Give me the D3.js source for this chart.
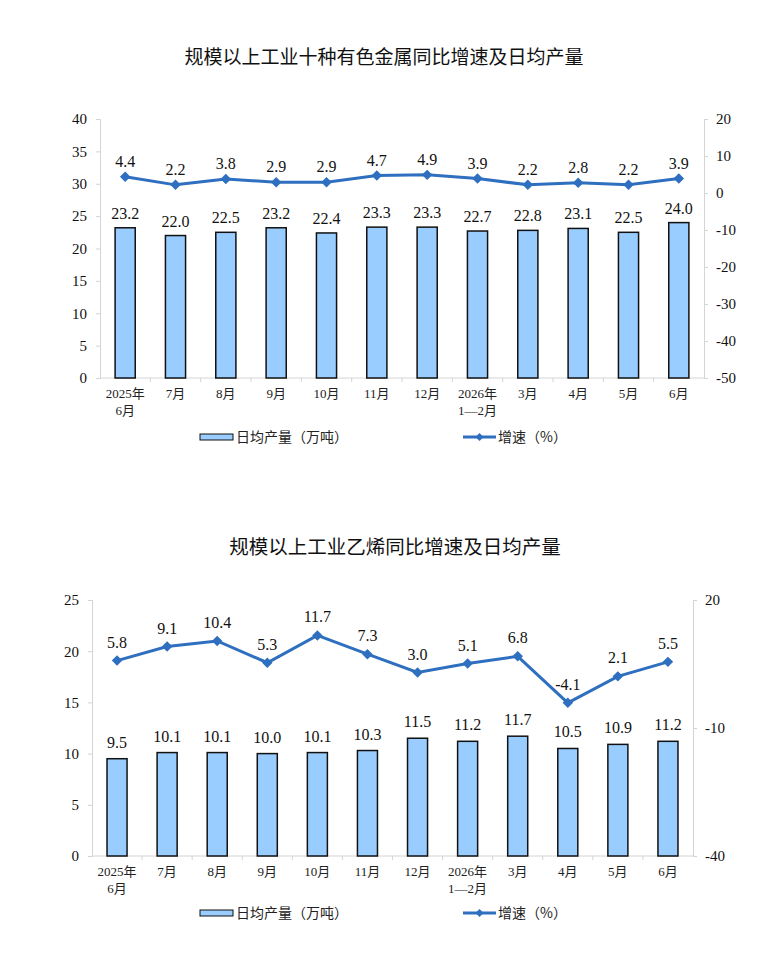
<!DOCTYPE html>
<html>
<head>
<meta charset="utf-8">
<script src="https://cdn.jsdelivr.net/npm/d3@7/dist/d3.min.js"></script>
<style>
  body { margin: 0; background: #fff; }
  svg { display: block; }
</style>
</head>
<body>
<svg id="chart" width="768" height="955"></svg>
<script>
// month labels (shared by both panels)
const months = ['2025年|6月', '7月', '8月', '9月', '10月', '11月', '12月', '2026年|1—2月', '3月', '4月', '5月', '6月'];

// panel 1: ten non-ferrous metals
const metalOutput = [23.2, 22.0, 22.5, 23.2, 22.4, 23.3, 23.3, 22.7, 22.8, 23.1, 22.5, 24.0];
const metalGrowth = [4.4, 2.2, 3.8, 2.9, 2.9, 4.7, 4.9, 3.9, 2.2, 2.8, 2.2, 3.9];
const metalLeftTicks = [0, 5, 10, 15, 20, 25, 30, 35, 40];
const metalRightTicks = [-50, -40, -30, -20, -10, 0, 10, 20];

// panel 2: ethylene
const ethOutput = [9.5, 10.1, 10.1, 10.0, 10.1, 10.3, 11.5, 11.2, 11.7, 10.5, 10.9, 11.2];
const ethGrowth = [5.8, 9.1, 10.4, 5.3, 11.7, 7.3, 3.0, 5.1, 6.8, -4.1, 2.1, 5.5];
const ethLeftTicks = [0, 5, 10, 15, 20, 25];
const ethRightTicks = [-40, -10, 20];

const legendBar = '日均产量（万吨）';
const legendLine = '增速（%）';

const BAR_FILL = '#99ccff';
const LINE_COL = '#2e6fbf';
const AXIS_COL = '#d4d4d4';
const SERIF = '"Liberation Serif", "Times New Roman", "Noto Sans CJK SC", serif';
const CJK = '"Noto Sans CJK SC", sans-serif';

const svg = d3.select('#chart');

function drawPanel(cfg) {
  const g = svg.append('g');

  // title
  g.append('text')
    .attr('x', cfg.titleX).attr('y', cfg.titleY)
    .attr('text-anchor', 'middle')
    .style('font-family', CJK)
    .style('font-size', cfg.titleSize + 'px')
    .style('font-weight', '400')
    .attr('fill', '#111')
    .text(cfg.title);

  const x = d3.scaleBand().domain(months).range([cfg.left, cfg.right]);
  const yL = d3.scaleLinear().domain(cfg.leftDomain).range([cfg.bottom, cfg.top]);
  const yR = d3.scaleLinear().domain(cfg.rightDomain).range([cfg.bottom, cfg.top]);

  // left axis
  const axL = g.append('g')
    .attr('transform', 'translate(' + cfg.left + ',0)')
    .call(d3.axisLeft(yL).tickValues(cfg.leftTicks).tickSize(4).tickPadding(9).tickFormat(d => String(d)));
  // right axis
  const axR = g.append('g')
    .attr('transform', 'translate(' + cfg.right + ',0)')
    .call(d3.axisRight(yR).tickValues(cfg.rightTicks).tickSize(4).tickPadding(cfg.rightPad).tickFormat(d => String(d)));
  // bottom axis (ticks on band boundaries)
  const axB = g.append('g')
    .attr('transform', 'translate(0,' + cfg.bottom + ')');
  axB.append('line')
    .attr('x1', cfg.left).attr('x2', cfg.right)
    .attr('stroke', AXIS_COL);
  axB.selectAll('line.tk')
    .data(months.slice(1))
    .enter().append('line')
    .attr('class', 'tk')
    .attr('x1', d => x(d)).attr('x2', d => x(d))
    .attr('y1', 0).attr('y2', 4)
    .attr('stroke', AXIS_COL);

  [axL, axR].forEach(ax => {
    ax.select('.domain').attr('stroke', AXIS_COL);
    ax.selectAll('.tick line').attr('stroke', AXIS_COL);
    ax.selectAll('.tick text')
      .style('font-family', SERIF)
      .style('font-size', '15px')
      .attr('fill', '#111');
  });

  // month labels
  const lbl = axB.selectAll('text.mon')
    .data(months)
    .enter().append('text')
    .attr('class', 'mon')
    .attr('text-anchor', 'middle')
    .attr('x', d => x(d) + x.bandwidth() / 2)
    .attr('y', 20)
    .style('font-family', SERIF)
    .style('font-size', '13px')
    .attr('fill', '#222');
  lbl.each(function (d) {
    const parts = d.split('|');
    const t = d3.select(this);
    parts.forEach((p, i) => {
      t.append('tspan')
        .attr('x', x(d) + x.bandwidth() / 2)
        .attr('dy', i === 0 ? 0 : 17)
        .text(p);
    });
  });

  // bars
  const bw = x.bandwidth() * 0.4;
  g.selectAll('rect.bar')
    .data(cfg.output)
    .enter().append('rect')
    .attr('class', 'bar')
    .attr('x', (d, i) => x(months[i]) + (x.bandwidth() - bw) / 2)
    .attr('y', d => yL(d))
    .attr('width', bw)
    .attr('height', d => cfg.bottom - yL(d))
    .attr('fill', BAR_FILL)
    .attr('stroke', '#111')
    .attr('stroke-width', 1.5);

  g.selectAll('text.barlbl')
    .data(cfg.output)
    .enter().append('text')
    .attr('class', 'barlbl')
    .attr('text-anchor', 'middle')
    .attr('x', (d, i) => x(months[i]) + x.bandwidth() / 2)
    .attr('y', d => yL(d) - cfg.barLblOff)
    .style('font-family', SERIF)
    .style('font-size', '16px')
    .attr('fill', '#111')
    .text(d => d.toFixed(1));

  // growth line
  const line = d3.line()
    .x((d, i) => x(months[i]) + x.bandwidth() / 2)
    .y(d => yR(d));
  g.append('path')
    .datum(cfg.growth)
    .attr('fill', 'none')
    .attr('stroke', LINE_COL)
    .attr('stroke-width', 3)
    .attr('d', line);

  g.selectAll('path.mk')
    .data(cfg.growth)
    .enter().append('path')
    .attr('class', 'mk')
    .attr('d', d3.symbol(d3.symbolDiamond2, 70))
    .attr('transform', (d, i) => 'translate(' + (x(months[i]) + x.bandwidth() / 2) + ',' + yR(d) + ')')
    .attr('fill', LINE_COL);

  g.selectAll('text.linelbl')
    .data(cfg.growth)
    .enter().append('text')
    .attr('class', 'linelbl')
    .attr('text-anchor', 'middle')
    .attr('x', (d, i) => x(months[i]) + x.bandwidth() / 2)
    .attr('y', d => yR(d) - cfg.lineLblOff)
    .style('font-family', SERIF)
    .style('font-size', '16px')
    .attr('fill', '#111')
    .text(d => d.toFixed(1));

  // legend
  const lg = g.append('g').attr('transform', 'translate(0,' + cfg.legendY + ')');
  lg.append('rect')
    .attr('x', 200).attr('y', -3).attr('width', 33).attr('height', 6)
    .attr('fill', BAR_FILL).attr('stroke', '#111').attr('stroke-width', 1);
  lg.append('text')
    .attr('x', 236).attr('y', 5)
    .style('font-family', CJK).style('font-size', '14px').attr('fill', '#222')
    .text(legendBar);
  lg.append('line')
    .attr('x1', 463).attr('x2', 496).attr('y1', 0).attr('y2', 0)
    .attr('stroke', LINE_COL).attr('stroke-width', 3);
  lg.append('path')
    .attr('d', d3.symbol(d3.symbolDiamond2, 40))
    .attr('transform', 'translate(479.5,0)')
    .attr('fill', LINE_COL);
  lg.append('text')
    .attr('x', 498).attr('y', 5)
    .style('font-family', CJK).style('font-size', '14px').attr('fill', '#222')
    .text(legendLine);
}

drawPanel({
  title: '规模以上工业十种有色金属同比增速及日均产量',
  titleX: 384, titleY: 64, titleSize: 19,
  left: 100, right: 704, top: 119, bottom: 378,
  leftDomain: [0, 40], rightDomain: [-50, 20],
  leftTicks: metalLeftTicks, rightTicks: metalRightTicks, rightPad: 8,
  output: metalOutput, growth: metalGrowth,
  barLblOff: 9, lineLblOff: 10,
  legendY: 437
});

drawPanel({
  title: '规模以上工业乙烯同比增速及日均产量',
  titleX: 395, titleY: 554, titleSize: 19.5,
  left: 92, right: 693, top: 600, bottom: 856,
  leftDomain: [0, 25], rightDomain: [-40, 20],
  leftTicks: ethLeftTicks, rightTicks: ethRightTicks, rightPad: 8,
  output: ethOutput, growth: ethGrowth,
  barLblOff: 11, lineLblOff: 13,
  legendY: 913
});
</script>
</body>
</html>
